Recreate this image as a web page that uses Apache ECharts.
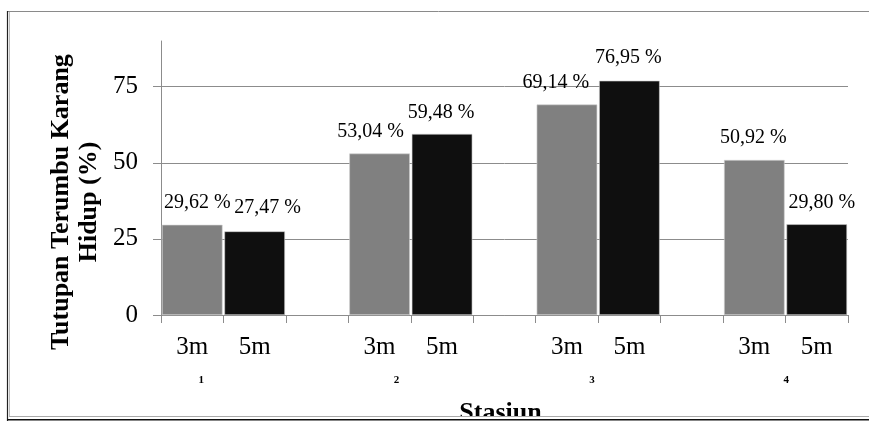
<!DOCTYPE html>
<html>
<head>
<meta charset="utf-8">
<script src="https://cdn.jsdelivr.net/npm/echarts@6/dist/echarts.min.js"></script>
<style>
  html, body { margin: 0; padding: 0; background: #ffffff; }
  #chart { width: 869px; height: 421px; }
</style>
</head>
<body>
<div id="chart"></div>
<script>
// Depth categories per station; blank slots separate the station groups
const categories = ['3m', '5m', '', '3m', '5m', '', '3m', '5m', '', '3m', '5m'];
// Live coral cover (%) per slot; null in the separator slots
const coverValues = [29.62, 27.47, null, 53.04, 59.48, null, 69.14, 76.95, null, 50.92, 29.80];
// Station names and the slot index where each station's group begins
const stations = ['1', '2', '3', '4'];
const stationSlots = [0, 3, 6, 9];
const yTicks = [0, 25, 50, 75];

// Label nudges (px) for each value label, per slot
const labelNudge = [[5, -7], [13, -9], null, [-9, -7], [-1, -6], null, [-11, -7], [-1, -8], null, [-1, -7], [5, -7]];
// Station number offset from the 3m slot centre (px)
const stationNudge = [9, 17, 25, 32];

const FONT = '"Liberation Serif", "Times New Roman", serif';
const GREY_BAR = '#808080';
const DARK_BAR = '#0f0f0f';

const chart = echarts.init(document.getElementById('chart'), null, { renderer: 'canvas' });

const barData = coverValues.map((v, i) => {
  if (v === null) return null;
  const depth = categories[i];
  return {
    value: v,
    itemStyle: { color: depth === '3m' ? GREY_BAR : DARK_BAR },
    label: { offset: labelNudge[i] }
  };
});

const option = {
  backgroundColor: '#ffffff',
  animation: false,
  textStyle: { fontFamily: FONT },
  grid: { left: 161, right: 21, top: 41, bottom: 106, containLabel: false, outerBoundsMode: 'none' },
  xAxis: {
    type: 'category',
    data: categories,
    boundaryGap: true,
    name: 'Stasiun',
    nameLocation: 'middle',
    nameGap: 85,
    nameTextStyle: { fontFamily: FONT, fontSize: 26, fontWeight: 'bold', color: '#000', padding: [0, 8, 0, 0] },
    axisLine: { lineStyle: { color: '#8c8c8c', width: 1 } },
    axisTick: { show: true, interval: 0, length: 8, lineStyle: { color: '#8c8c8c' } },
    axisLabel: { interval: 0, margin: 20, fontFamily: FONT, fontSize: 25, color: '#000' },
    splitLine: { show: false }
  },
  yAxis: {
    type: 'value',
    min: 0,
    max: 90,
    interval: 25,
    axisLine: { show: true, lineStyle: { color: '#8c8c8c', width: 1 } },
    axisTick: { show: true, length: 8, inside: false, lineStyle: { color: '#8c8c8c' } },
    axisLabel: {
      margin: 23,
      fontFamily: FONT,
      fontSize: 25,
      color: '#000',
      showMaxLabel: false,
      formatter: v => (yTicks.indexOf(v) >= 0 ? String(v) : '')
    },
    splitLine: { show: true, showMaxLine: false, lineStyle: { color: '#8c8c8c', width: 1 } }
  },
  series: [{
    type: 'bar',
    data: barData,
    barCategoryGap: '3%',
    itemStyle: { borderColor: '#d0d0d0', borderWidth: 0.6 },
    label: {
      show: true,
      position: 'top',
      distance: 5,
      fontFamily: FONT,
      fontSize: 20,
      color: '#000',
      formatter: p => p.value.toFixed(2).replace('.', ',') + ' %'
    }
  }]
};

chart.setOption(option);

// Frame, rotated y-axis title and station numbers
function drawExtras() {
  const y0 = chart.convertToPixel({ yAxisIndex: 0 }, 0);
  const stationTexts = stations.map((s, k) => ({
    type: 'text',
    x: chart.convertToPixel({ xAxisIndex: 0 }, stationSlots[k]) + stationNudge[k],
    y: y0 + 65,
    style: {
      text: s, fill: '#000', font: 'bold 11px ' + FONT,
      textAlign: 'center', textVerticalAlign: 'middle'
    }
  }));
  chart.setOption({
    graphic: [
      { type: 'line', shape: { x1: 8, y1: 11.5, x2: 869, y2: 11.5 }, style: { stroke: '#8a8a8a', lineWidth: 1 } },
      { type: 'line', shape: { x1: 7.5, y1: 11, x2: 7.5, y2: 421 }, style: { stroke: '#222', lineWidth: 1.2 } },
      { type: 'line', shape: { x1: 9.5, y1: 12, x2: 9.5, y2: 417 }, style: { stroke: '#bbb', lineWidth: 1 } },
      { type: 'rect', shape: { x: 9, y: 417, width: 860, height: 4 }, style: { fill: '#ffffff' }, z: 10 },
      { type: 'line', shape: { x1: 9, y1: 416.5, x2: 869, y2: 416.5 }, style: { stroke: '#aaa', lineWidth: 1 }, z: 11 },
      { type: 'line', shape: { x1: 7, y1: 419.8, x2: 869, y2: 419.8 }, style: { stroke: '#111', lineWidth: 1.6 }, z: 11 },
      {
        type: 'text', x: 75, y: 202, rotation: Math.PI / 2,
        style: {
          text: 'Tutupan Terumbu Karang\nHidup (%)',
          fill: '#000', font: 'bold 26px ' + FONT,
          textAlign: 'center', textVerticalAlign: 'middle', lineHeight: 28
        }
      }
    ].concat(stationTexts)
  });
}
drawExtras();
</script>
</body>
</html>
